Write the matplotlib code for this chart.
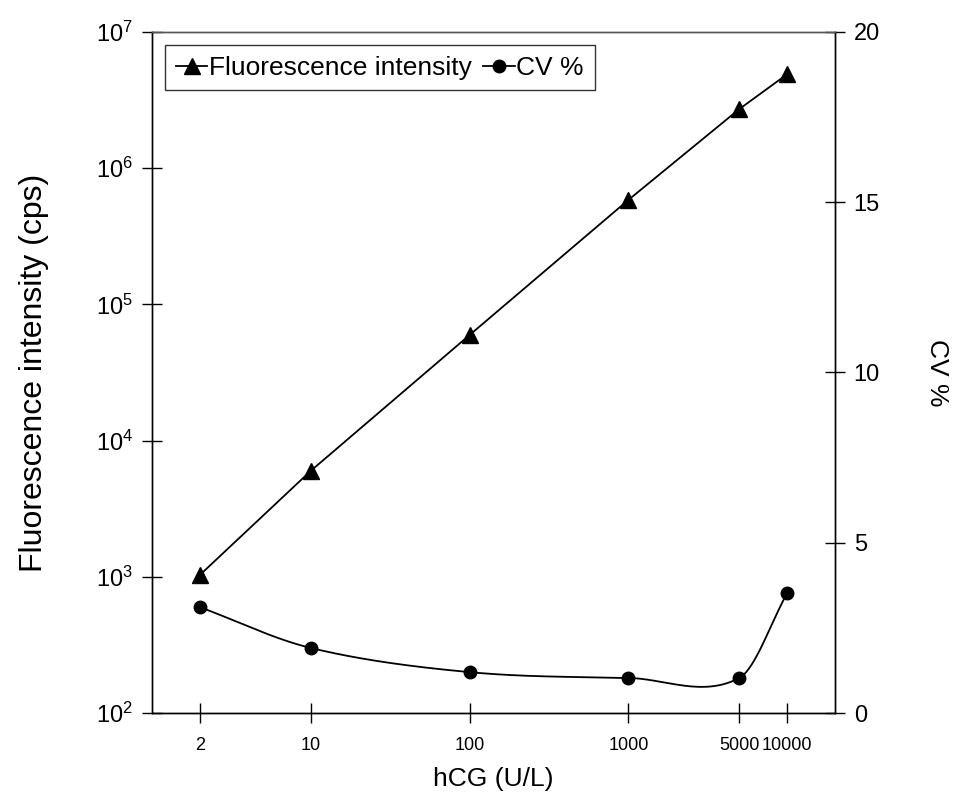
import numpy as np
import matplotlib.pyplot as plt
from matplotlib.ticker import FixedLocator, FixedFormatter, NullLocator, LogLocator

plt.rcParams['font.family'] = ['Liberation Sans', 'DejaVu Sans']
plt.rcParams['mathtext.fontset'] = 'custom'
plt.rcParams['mathtext.rm'] = 'Liberation Sans'

# data
hcg = [2, 10, 100, 1000, 5000, 10000]
hcg_labels = ['2', '10', '100', '1000', '5000', '10000']
fluor = [1030, 6000, 59600, 585000, 2.72e6, 4.9e6]
cv = [3.11, 1.91, 1.20, 1.03, 1.03, 3.52]


def smooth_line(x, y, xs):
    # cardinal (Catmull-Rom) hermite curve through the points, for drawing only
    x = np.asarray(x, float)
    y = np.asarray(y, float)
    n = len(x)
    m = np.empty(n)
    m[0] = (y[1] - y[0]) / (x[1] - x[0])
    m[-1] = (y[-1] - y[-2]) / (x[-1] - x[-2])
    m[1:-1] = (y[2:] - y[:-2]) / (x[2:] - x[:-2])
    out = np.empty_like(xs)
    for k, xv in enumerate(xs):
        i = int(np.clip(np.searchsorted(x, xv, side='right') - 1, 0, n - 2))
        h = x[i + 1] - x[i]
        t = (xv - x[i]) / h
        h00 = 2 * t**3 - 3 * t**2 + 1
        h10 = t**3 - 2 * t**2 + t
        h01 = -2 * t**3 + 3 * t**2
        h11 = t**3 - t**2
        out[k] = h00 * y[i] + h10 * h * m[i] + h01 * y[i + 1] + h11 * h * m[i + 1]
    return out


fig = plt.figure(figsize=(9.56, 8.02), dpi=100)
ax = fig.add_axes([152 / 956, 1 - 713 / 802, (835 - 152) / 956, (713 - 32) / 802])
ax2 = ax.twinx()

l1, = ax.plot(hcg, fluor, color='black', lw=1.3, marker='^', ms=12,
              label='Fluorescence intensity')

lx = np.log10(hcg)
xs = np.linspace(lx[0], lx[-1], 400)
ax2.plot(10 ** xs, smooth_line(lx, cv, xs), color='black', lw=1.3)
ax2.plot(hcg, cv, ls='none', color='black', marker='o', ms=9)
l2, = ax2.plot([], [], color='black', lw=1.3, marker='o', ms=9, label='CV %')

ax.set_xscale('log')
ax.set_yscale('log')
ax.set_xlim(1, 20000)
ax.set_ylim(1e2, 1e7)
ax2.set_ylim(0, 20)

ax.xaxis.set_major_locator(FixedLocator(hcg))
ax.xaxis.set_major_formatter(FixedFormatter(hcg_labels))
ax.xaxis.set_minor_locator(NullLocator())
ax.yaxis.set_major_locator(LogLocator(base=10, numticks=10))
ax.yaxis.set_minor_locator(NullLocator())
ax2.set_yticks([0, 5, 10, 15, 20])

ax.tick_params(axis='x', direction='inout', length=15, width=1, pad=10,
               labelsize=13)
ax.tick_params(axis='y', direction='inout', length=15, width=1, pad=6,
               labelsize=17)
ax2.tick_params(axis='y', direction='inout', length=15, width=1, pad=6,
                labelsize=17)

for a in (ax, ax2):
    for s in a.spines.values():
        s.set_linewidth(1)
    a.spines['top'].set_color('#555555')

ax.set_xlabel('hCG (U/L)', fontsize=19, labelpad=9)
ax.set_ylabel('Fluorescence intensity (cps)', fontsize=23, labelpad=34)
ax2.set_ylabel('CV %', fontsize=19, rotation=270, labelpad=50)

leg = ax.legend(handles=[l1, l2], loc='upper left', ncol=2, fontsize=19,
                frameon=True, fancybox=False, edgecolor='black',
                handlelength=1.2, handletextpad=0.05, columnspacing=0.45,
                borderpad=0.4, borderaxespad=0.5)
leg.get_frame().set_linewidth(1)

fig.savefig('out.png', dpi=100)
